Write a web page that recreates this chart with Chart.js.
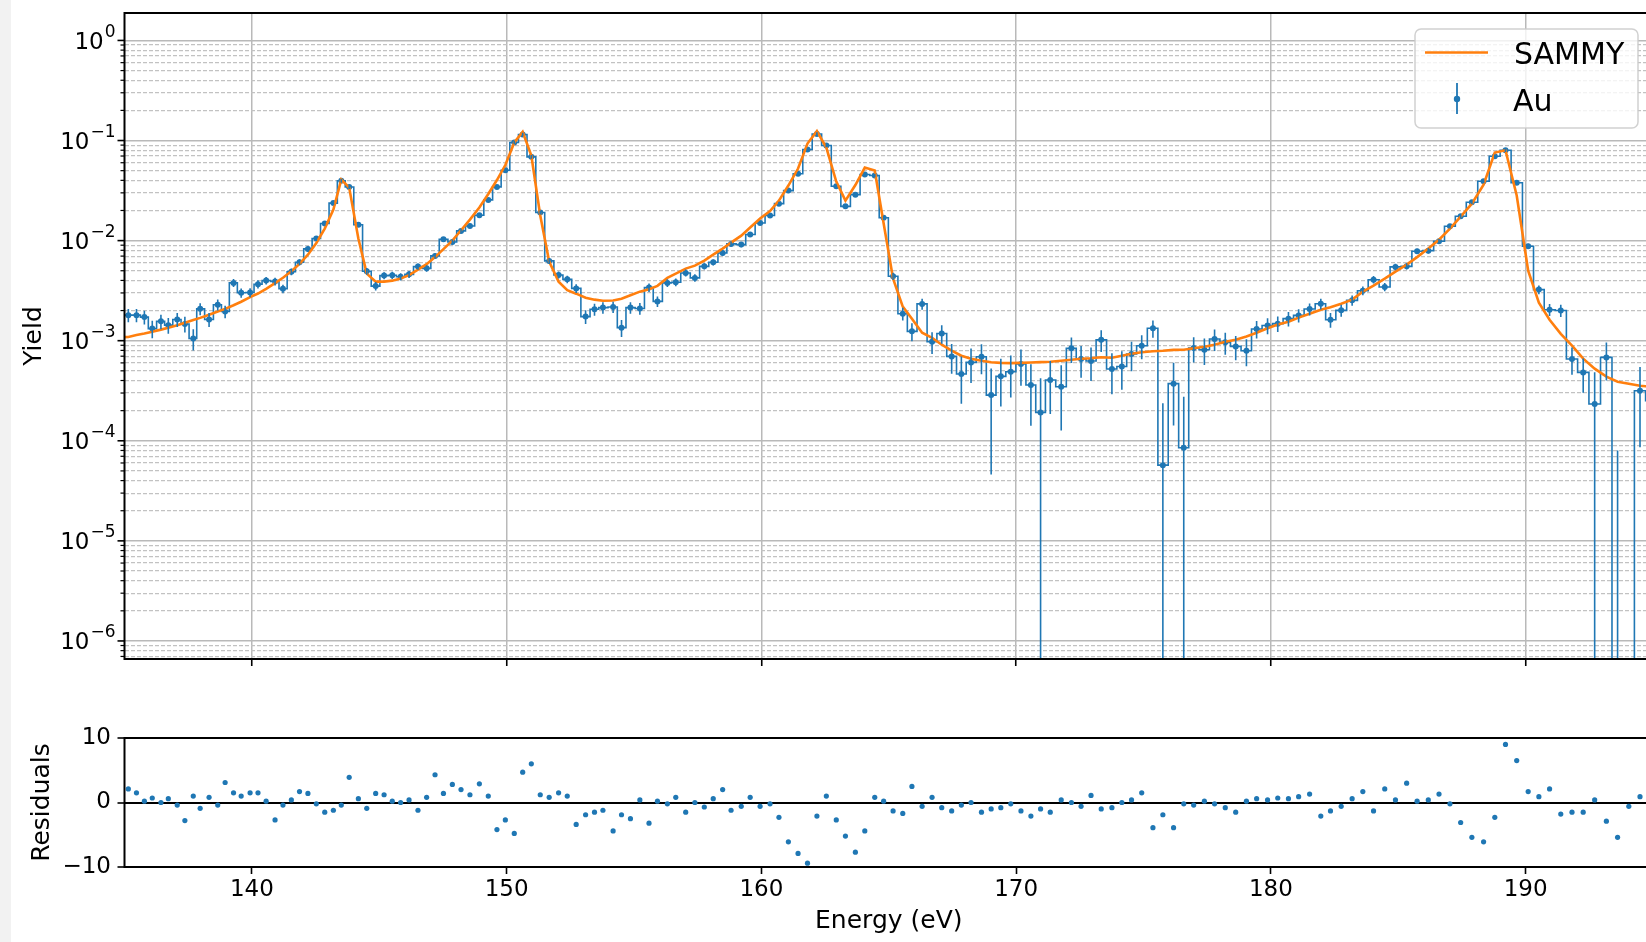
<!DOCTYPE html>
<html>
<head>
<meta charset="utf-8">
<script src="https://cdn.jsdelivr.net/npm/chart.js@4/dist/chart.umd.min.js"></script>
<style>
html, body { margin: 0; padding: 0; width: 1646px; height: 942px; overflow: hidden; background: #fff; }
#strip { position: absolute; left: 0; top: 0; width: 11px; height: 942px; background: #f2f2f2; }
canvas { position: absolute; left: 0; }
#main { top: 0; }
#resid { top: 700px; }
</style>
</head>
<body>
<div id="strip"></div>
<canvas id="main" width="1660" height="672"></canvas>
<canvas id="resid" width="1660" height="242"></canvas>
<script>
// energy grid (eV), shared by data, SAMMY fit and residuals
const energy = [134.83,135.15,135.47,135.78,136.09,136.43,136.72,137.07,137.37,137.70,
  137.97,138.32,138.66,138.95,139.28,139.58,139.93,140.24,140.56,140.91,
  141.22,141.55,141.87,142.20,142.53,142.86,143.20,143.51,143.82,144.18,
  144.51,144.86,145.19,145.51,145.84,146.17,146.52,146.86,147.19,147.52,
  147.87,148.21,148.56,148.93,149.28,149.62,149.95,150.30,150.63,150.97,
  151.32,151.67,152.04,152.38,152.73,153.10,153.45,153.78,154.18,154.51,
  154.86,155.23,155.59,155.92,156.31,156.64,157.03,157.39,157.76,158.11,
  158.48,158.81,159.21,159.56,159.95,160.34,160.69,161.06,161.44,161.81,
  162.18,162.55,162.94,163.30,163.69,164.06,164.45,164.80,165.17,165.55,
  165.91,166.31,166.70,167.08,167.47,167.85,168.23,168.64,169.02,169.40,
  169.79,170.19,170.58,170.96,171.34,171.77,172.17,172.55,172.94,173.34,
  173.76,174.15,174.53,174.93,175.37,175.76,176.18,176.58,176.97,177.39,
  177.79,178.21,178.62,179.04,179.44,179.87,180.27,180.69,181.09,181.52,
  181.96,182.34,182.76,183.19,183.61,184.03,184.47,184.89,185.33,185.74,
  186.18,186.60,187.03,187.45,187.89,188.35,188.79,189.21,189.65,190.10,
  190.52,190.94,191.38,191.82,192.26,192.71,193.17,193.61,194.05,194.49,
  194.93];

// measured Au yield
const yieldAu = [1.74e-3,1.80e-3,1.80e-3,1.72e-3,1.32e-3,1.56e-3,1.43e-3,1.63e-3,1.47e-3,1.05e-3,
  2.08e-3,1.63e-3,2.29e-3,1.96e-3,3.78e-3,3.01e-3,3.03e-3,3.67e-3,3.99e-3,3.90e-3,
  3.30e-3,4.88e-3,6.08e-3,8.26e-3,1.05e-2,1.48e-2,2.37e-2,3.96e-2,3.43e-2,1.44e-2,
  4.94e-3,3.51e-3,4.47e-3,4.51e-3,4.36e-3,4.60e-3,5.50e-3,5.28e-3,7.03e-3,1.03e-2,
  9.70e-3,1.25e-2,1.40e-2,1.79e-2,2.55e-2,3.44e-2,5.05e-2,9.55e-2,1.15e-1,6.87e-2,
  1.91e-2,6.27e-3,4.54e-3,4.10e-3,3.33e-3,1.74e-3,2.06e-3,2.14e-3,2.17e-3,1.35e-3,
  2.14e-3,2.10e-3,3.39e-3,2.47e-3,3.78e-3,3.83e-3,4.75e-3,4.24e-3,5.53e-3,6.07e-3,
  7.53e-3,9.27e-3,9.12e-3,1.15e-2,1.50e-2,1.78e-2,2.34e-2,3.16e-2,4.65e-2,8.13e-2,
  1.16e-1,8.91e-2,3.49e-2,2.20e-2,2.88e-2,4.57e-2,4.47e-2,1.69e-2,4.40e-3,1.86e-3,
  1.24e-3,2.33e-3,9.77e-4,1.18e-3,6.97e-4,4.65e-4,6.07e-4,6.92e-4,2.86e-4,4.40e-4,
  4.90e-4,5.85e-4,3.61e-4,1.92e-4,4.05e-4,3.47e-4,8.38e-4,6.56e-4,6.26e-4,1.02e-3,
  5.21e-4,5.53e-4,7.36e-4,8.91e-4,1.33e-3,5.71e-5,3.72e-4,8.51e-5,8.45e-4,8.13e-4,
  1.04e-3,9.62e-4,8.77e-4,7.94e-4,1.31e-3,1.42e-3,1.48e-3,1.66e-3,1.79e-3,2.07e-3,
  2.34e-3,1.62e-3,2.01e-3,2.53e-3,3.16e-3,4.07e-3,3.44e-3,5.46e-3,5.53e-3,7.82e-3,
  7.94e-3,9.84e-3,1.39e-2,1.75e-2,2.42e-2,3.92e-2,6.97e-2,8.00e-2,3.78e-2,8.77e-3,
  3.24e-3,2.04e-3,2.00e-3,6.56e-4,4.82e-4,2.33e-4,6.81e-4,-1.5e-4,-3.0e-4,3.16e-4,
  2.51e-4];

// one-sigma uncertainty on the yield
const yieldErr = [2.7e-4,2.7e-4,2.7e-4,2.7e-4,2.6e-4,2.6e-4,2.6e-4,2.6e-4,2.6e-4,2.5e-4,
  2.8e-4,2.6e-4,2.9e-4,2.8e-4,3.5e-4,3.2e-4,3.2e-4,3.4e-4,3.5e-4,3.5e-4,
  3.3e-4,3.8e-4,4.2e-4,5.0e-4,5.8e-4,7.4e-4,1.1e-3,1.7e-3,1.5e-3,7.2e-4,
  3.8e-4,3.4e-4,3.7e-4,3.7e-4,3.6e-4,3.7e-4,4.0e-4,3.9e-4,4.6e-4,5.8e-4,
  5.5e-4,6.5e-4,7.0e-4,8.5e-4,1.1e-3,1.5e-3,2.1e-3,3.8e-3,4.6e-3,2.8e-3,
  8.8e-4,4.3e-4,3.7e-4,3.5e-4,3.3e-4,2.7e-4,2.8e-4,2.8e-4,2.8e-4,2.6e-4,
  2.8e-4,2.8e-4,3.3e-4,3.0e-4,3.4e-4,3.4e-4,3.8e-4,3.6e-4,4.0e-4,4.2e-4,
  4.8e-4,5.4e-4,5.3e-4,6.2e-4,7.4e-4,8.4e-4,1.0e-3,1.4e-3,1.9e-3,3.3e-3,
  4.7e-3,3.6e-3,1.5e-3,1.0e-3,1.2e-3,1.9e-3,1.8e-3,8.0e-4,3.7e-4,2.7e-4,
  2.5e-4,2.9e-4,2.4e-4,2.5e-4,2.3e-4,2.3e-4,2.3e-4,2.3e-4,2.4e-4,2.2e-4,
  2.2e-4,2.3e-4,2.2e-4,2.3e-4,2.2e-4,2.2e-4,2.4e-4,2.3e-4,2.3e-4,2.5e-4,
  2.3e-4,2.3e-4,2.4e-4,2.4e-4,2.6e-4,1.8e-4,2.3e-4,1.9e-4,2.4e-4,2.4e-4,
  2.5e-4,2.4e-4,2.4e-4,2.4e-4,2.6e-4,2.6e-4,2.6e-4,2.7e-4,2.7e-4,2.8e-4,
  2.9e-4,2.7e-4,2.8e-4,3.0e-4,3.2e-4,3.5e-4,3.3e-4,4.0e-4,4.0e-4,4.9e-4,
  4.9e-4,5.6e-4,7.0e-4,8.3e-4,1.1e-3,1.7e-3,2.8e-3,3.2e-3,1.6e-3,5.2e-4,
  3.3e-4,2.8e-4,2.8e-4,2.0e-4,1.8e-4,2.5e-4,2.8e-4,2.3e-4,2.5e-4,2.3e-4,
  2.3e-4];

// SAMMY fit
const sammy = [1.08e-3,1.09e-3,1.14e-3,1.18e-3,1.23e-3,1.29e-3,1.35e-3,1.43e-3,1.51e-3,1.61e-3,
  1.69e-3,1.82e-3,1.96e-3,2.08e-3,2.26e-3,2.45e-3,2.72e-3,2.96e-3,3.30e-3,3.76e-3,
  4.25e-3,4.94e-3,5.85e-3,7.24e-3,9.48e-3,1.32e-2,2.04e-2,4.07e-2,3.39e-2,1.05e-2,
  4.68e-3,3.89e-3,3.89e-3,3.98e-3,4.17e-3,4.52e-3,5.13e-3,5.82e-3,6.84e-3,8.22e-3,
  1.00e-2,1.27e-2,1.62e-2,2.14e-2,2.92e-2,4.03e-2,5.69e-2,9.55e-2,1.22e-1,7.08e-2,
  1.78e-2,6.17e-3,3.89e-3,3.20e-3,2.95e-3,2.69e-3,2.57e-3,2.51e-3,2.52e-3,2.63e-3,
  2.85e-3,3.09e-3,3.27e-3,3.53e-3,4.24e-3,4.68e-3,5.25e-3,5.62e-3,6.31e-3,7.24e-3,
  8.32e-3,9.55e-3,1.12e-2,1.35e-2,1.66e-2,1.97e-2,2.51e-2,3.55e-2,5.25e-2,9.33e-2,
  1.24e-1,8.51e-2,3.89e-2,2.51e-2,3.59e-2,5.37e-2,5.01e-2,1.48e-2,4.17e-3,2.19e-3,
  1.66e-3,1.20e-3,1.07e-3,9.12e-4,7.94e-4,7.08e-4,6.61e-4,6.31e-4,6.10e-4,6.00e-4,
  5.97e-4,6.00e-4,6.05e-4,6.11e-4,6.17e-4,6.31e-4,6.46e-4,6.61e-4,6.68e-4,6.84e-4,
  6.76e-4,7.08e-4,7.41e-4,7.67e-4,7.85e-4,7.94e-4,8.09e-4,8.13e-4,8.41e-4,8.71e-4,
  9.12e-4,9.77e-4,1.02e-3,1.10e-3,1.20e-3,1.33e-3,1.45e-3,1.55e-3,1.70e-3,1.86e-3,
  2.04e-3,2.16e-3,2.34e-3,2.57e-3,3.09e-3,3.55e-3,4.17e-3,4.90e-3,5.75e-3,6.84e-3,
  8.32e-3,1.02e-2,1.32e-2,1.74e-2,2.34e-2,3.63e-2,7.59e-2,8.00e-2,2.82e-2,5.01e-3,
  2.40e-3,1.62e-3,1.17e-3,8.91e-4,6.61e-4,5.25e-4,4.37e-4,3.89e-4,3.72e-4,3.55e-4,
  3.47e-4];

// residuals as plotted in the lower panel
const residuals = [null,2.1,1.5,0.2,0.7,0.0,0.6,-0.4,-2.8,1.0,
  -0.9,0.8,-0.4,3.1,1.5,1.0,1.5,1.5,0.2,-2.7,
  -0.4,0.4,1.7,1.4,-0.2,-1.5,-1.2,-0.4,3.9,0.6,
  -0.9,1.4,1.2,0.2,0.0,0.4,-1.2,0.8,4.3,1.4,
  2.8,2.0,1.2,2.9,1.0,-4.2,-2.7,-4.8,4.7,6.0,
  1.2,0.8,1.5,1.0,-3.4,-1.9,-1.5,-1.2,-4.4,-1.9,
  -2.5,0.4,-3.2,0.2,-0.2,0.8,-1.5,0.0,-0.7,0.6,
  2.0,-1.2,-0.6,0.8,-0.6,-0.2,-2.3,-6.1,-7.9,-9.4,
  -2.1,1.0,-2.7,-5.2,-7.7,-4.4,0.8,0.2,-1.3,-1.7,
  2.5,-0.6,0.8,-0.8,-1.3,-0.4,0.0,-1.5,-1.0,-0.8,
  -0.2,-1.3,-2.1,-1.0,-1.5,0.4,0.0,-0.6,1.1,-1.0,
  -0.8,0.0,0.4,1.5,-3.9,-1.9,-3.9,-0.2,-0.4,0.2,
  -0.2,-0.8,-1.5,0.2,0.6,0.4,0.7,0.6,0.9,1.3,
  -2.1,-1.3,-0.6,0.6,1.7,-1.3,2.1,0.4,3.0,0.2,
  0.4,1.3,-0.2,-3.1,-5.4,-6.1,-2.3,9.0,6.5,1.7,
  0.9,2.1,-1.8,-1.5,-1.5,0.4,-2.9,-5.4,-0.6,0.9,
  null];

const xTicks = [140, 150, 160, 170, 180, 190];
const yDecades = [-6, -5, -4, -3, -2, -1, 0];
const residTicks = [-10, 0, 10];

const blue = '#1f77b4';
const orange = '#ff7f0e';
const fontFam = '"DejaVu Sans", sans-serif';
const xMin = 135, xMax = 195;
const yMin = 6.6e-7, yMax = 1.88;

Chart.defaults.font.family = fontFam;
Chart.defaults.color = '#000';
Chart.defaults.animation = false;

// 1..9 x 10^k grid positions inside the y range
let yGrid = [];
for (let k = -7; k <= 0; k++) {
  for (let m = 1; m <= 9; m++) {
    let v = m * Math.pow(10, k);
    if (v >= yMin && v <= yMax) yGrid.push({value: v, major: m == 1});
  }
}

// log axis can't show values <= 0, push them below the bottom like matplotlib does
let auPts = energy.map((e, i) => ({x: e, y: yieldAu[i] > 0 ? yieldAu[i] : 1e-9}));
let sammyPts = energy.map((e, i) => ({x: e, y: sammy[i]}));
let residPts = energy.map((e, i) => ({x: e, y: residuals[i]}));

const errorBars = {
  id: 'errorBars',
  afterDatasetsDraw(chart) {
    let ctx = chart.ctx, a = chart.chartArea;
    let xs = chart.scales.x, ys = chart.scales.y;
    ctx.save();
    ctx.beginPath();
    ctx.rect(a.left, a.top, a.right - a.left, a.bottom - a.top);
    ctx.clip();
    ctx.strokeStyle = blue;
    ctx.lineWidth = 1.6;
    for (let i = 0; i < energy.length; i++) {
      let hi = yieldAu[i] + yieldErr[i];
      let lo = yieldAu[i] - yieldErr[i];
      if (hi <= 0) continue;
      let x = xs.getPixelForValue(energy[i]);
      let yTop = ys.getPixelForValue(hi);
      let yBot = lo > 0 ? ys.getPixelForValue(lo) : a.bottom + 5;
      ctx.beginPath();
      ctx.moveTo(x, yTop);
      ctx.lineTo(x, yBot);
      ctx.stroke();
    }
    ctx.restore();
  }
};

const mainDecor = {
  id: 'mainDecor',
  afterDraw(chart) {
    let ctx = chart.ctx, a = chart.chartArea, ys = chart.scales.y;
    ctx.save();
    ctx.strokeStyle = '#000';
    yGrid.forEach(t => {
      let y = ys.getPixelForValue(t.value);
      let len = t.major ? 7 : 4;
      ctx.lineWidth = t.major ? 1.6 : 1.2;
      ctx.beginPath();
      ctx.moveTo(a.left - len, y);
      ctx.lineTo(a.left, y);
      ctx.stroke();
    });
    // 10^k labels
    ctx.fillStyle = '#000';
    ctx.textAlign = 'right';
    ctx.textBaseline = 'alphabetic';
    yDecades.forEach(k => {
      let y = ys.getPixelForValue(Math.pow(10, k));
      let sup = k < 0 ? '\u2212' + (-k) : String(k);
      let right = a.left - 9;
      ctx.font = '17px ' + fontFam;
      let ws = ctx.measureText(sup).width;
      ctx.fillText(sup, right, y - 3.5);
      ctx.font = '23px ' + fontFam;
      ctx.fillText('10', right - ws - 1, y + 8.5);
    });
    // frame
    ctx.lineWidth = 2;
    ctx.strokeRect(a.left, a.top, a.right - a.left, a.bottom - a.top);
    // legend
    let lx = a.right - 238, ly = a.top + 16;
    ctx.beginPath();
    ctx.roundRect(lx, ly, 223, 99, 6);
    ctx.fillStyle = 'rgba(255,255,255,0.8)';
    ctx.fill();
    ctx.strokeStyle = 'rgba(204,204,204,0.9)';
    ctx.lineWidth = 1.5;
    ctx.stroke();
    ctx.strokeStyle = orange;
    ctx.lineWidth = 2.6;
    ctx.beginPath();
    ctx.moveTo(lx + 10, ly + 23.5);
    ctx.lineTo(lx + 73, ly + 23.5);
    ctx.stroke();
    ctx.strokeStyle = blue;
    ctx.lineWidth = 1.8;
    ctx.beginPath();
    ctx.moveTo(lx + 42, ly + 54);
    ctx.lineTo(lx + 42, ly + 85);
    ctx.stroke();
    ctx.fillStyle = blue;
    ctx.beginPath();
    ctx.arc(lx + 42, ly + 70, 3.2, 0, Math.PI * 2);
    ctx.fill();
    ctx.fillStyle = '#000';
    ctx.textAlign = 'left';
    ctx.font = '30px ' + fontFam;
    ctx.fillText(chart.data.datasets[0].label, lx + 99, ly + 35.3);
    ctx.fillText(chart.data.datasets[1].label, lx + 98, ly + 81.7);
    ctx.restore();
  }
};

const residDecor = {
  id: 'residDecor',
  afterDraw(chart) {
    let ctx = chart.ctx, a = chart.chartArea;
    ctx.save();
    ctx.strokeStyle = '#000';
    ctx.lineWidth = 2;
    ctx.strokeRect(a.left, a.top, a.right - a.left, a.bottom - a.top);
    ctx.restore();
  }
};

new Chart(document.getElementById('main'), {
  type: 'line',
  data: {
    datasets: [
      {
        label: 'SAMMY',
        data: sammyPts,
        borderColor: orange,
        borderWidth: 2.6,
        pointRadius: 0,
        order: 0
      },
      {
        label: 'Au',
        data: auPts,
        stepped: 'middle',
        borderColor: blue,
        borderWidth: 1.6,
        pointRadius: 3,
        pointBorderWidth: 0,
        pointBackgroundColor: blue,
        order: 1
      }
    ]
  },
  options: {
    responsive: false,
    devicePixelRatio: 1,
    layout: {padding: {left: 0, top: 13, right: 7, bottom: 0}},
    plugins: {legend: {display: false}, tooltip: {enabled: false}},
    scales: {
      x: {
        type: 'linear',
        min: xMin,
        max: xMax,
        afterBuildTicks: axis => { axis.ticks = xTicks.map(v => ({value: v})); },
        afterFit: axis => { axis.height = 13; },
        ticks: {display: false},
        border: {display: false},
        grid: {color: '#b9b9b9', lineWidth: 1.5, tickLength: 7, tickColor: '#000', tickWidth: 1.6}
      },
      y: {
        type: 'logarithmic',
        min: yMin,
        max: yMax,
        afterBuildTicks: axis => { axis.ticks = yGrid.map(t => ({value: t.value, major: t.major})); },
        afterFit: axis => { axis.width = 124.5; },
        ticks: {display: false},
        title: {display: true, text: 'Yield', font: {size: 25}, padding: {top: 19, bottom: 19}},
        border: {display: false, dash: ctx => (ctx.tick && ctx.tick.major) ? [] : [4, 2]},
        grid: {
          drawTicks: false,
          color: ctx => (ctx.tick && ctx.tick.major) ? '#b9b9b9' : '#c2c2c2',
          lineWidth: ctx => (ctx.tick && ctx.tick.major) ? 1.5 : 1.2
        }
      }
    }
  },
  plugins: [errorBars, mainDecor]
});

new Chart(document.getElementById('resid'), {
  type: 'scatter',
  data: {
    datasets: [{
      label: 'Residuals',
      data: residPts,
      pointRadius: 2.6,
      pointBorderWidth: 0,
      pointBackgroundColor: blue
    }]
  },
  options: {
    responsive: false,
    devicePixelRatio: 1,
    layout: {padding: {left: 0, top: 38, right: 7, bottom: 0}},
    plugins: {legend: {display: false}, tooltip: {enabled: false}},
    scales: {
      x: {
        type: 'linear',
        min: xMin,
        max: xMax,
        afterBuildTicks: axis => { axis.ticks = xTicks.map(v => ({value: v})); },
        afterFit: axis => { axis.height = 75; },
        ticks: {font: {size: 23}, padding: 2},
        title: {display: true, text: 'Energy (eV)', font: {size: 25}, padding: {top: 6, bottom: 6}},
        border: {display: false},
        grid: {drawOnChartArea: false, tickLength: 7, tickColor: '#000', tickWidth: 1.6}
      },
      y: {
        min: -10,
        max: 10,
        afterBuildTicks: axis => { axis.ticks = residTicks.map(v => ({value: v})); },
        afterFit: axis => { axis.width = 124.5; },
        ticks: {
          font: {size: 23},
          padding: 6.5,
          callback: v => v < 0 ? '\u2212' + (-v) : String(v)
        },
        title: {display: true, text: 'Residuals', font: {size: 25}, padding: {top: 27, bottom: 27}},
        border: {display: false},
        grid: {
          color: ctx => (ctx.tick && ctx.tick.value === 0) ? '#000' : 'rgba(0,0,0,0)',
          lineWidth: 2,
          tickLength: 7,
          tickColor: '#000',
          tickWidth: 1.6
        }
      }
    }
  },
  plugins: [residDecor]
});
</script>
</body>
</html>
